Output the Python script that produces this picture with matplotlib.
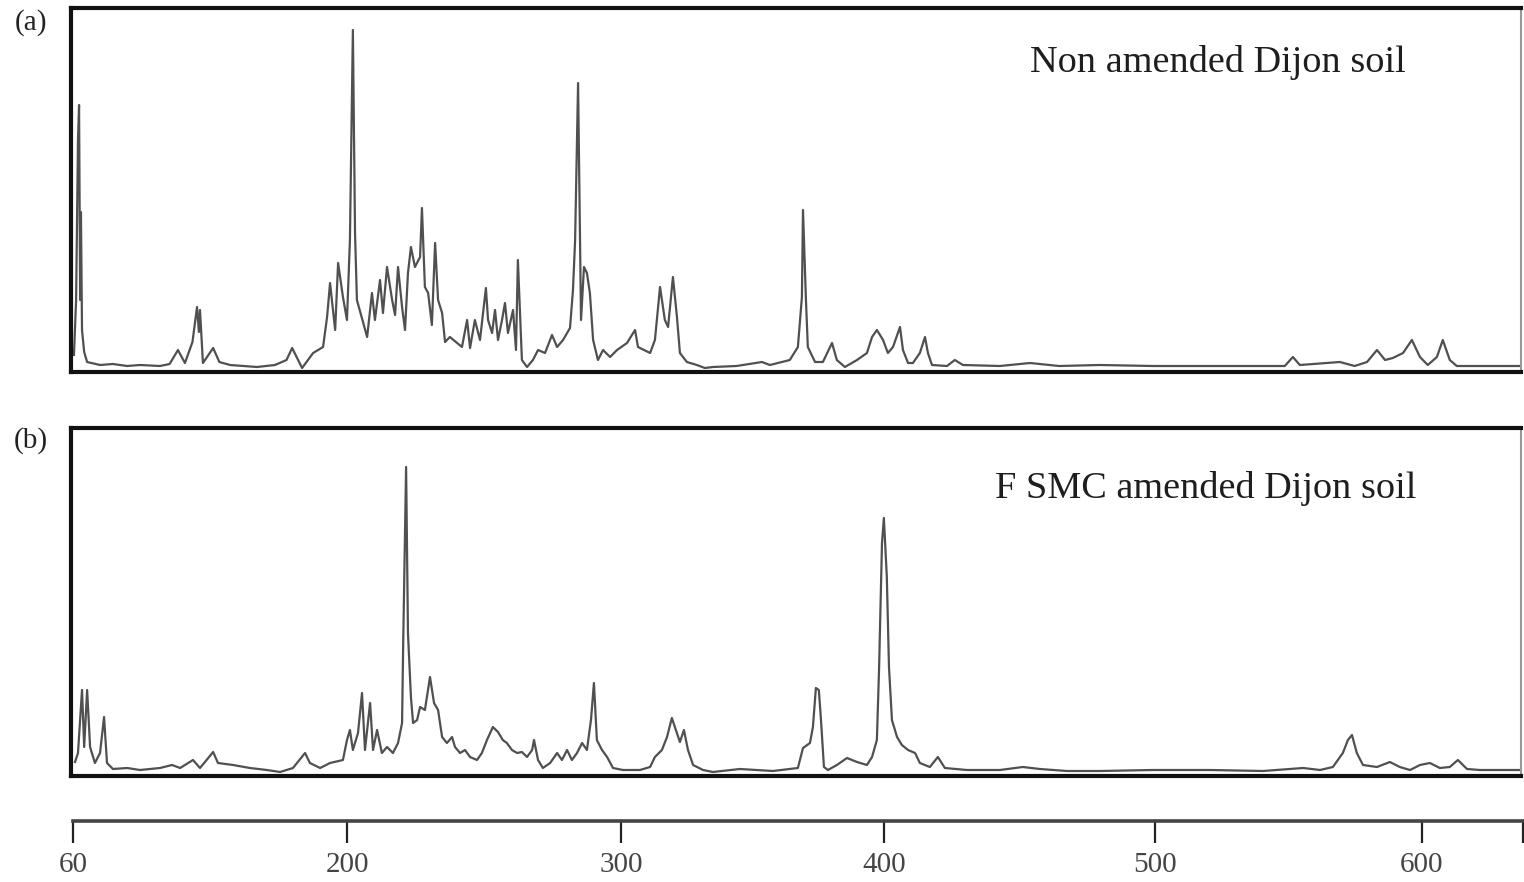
import matplotlib
matplotlib.use("Agg")
import matplotlib.pyplot as plt

# fragment size (bp) and peak height for the two profiles
size_a = [98.4, 99.2, 99.9, 100.3, 100.7, 101.0, 101.4, 102.2, 103.3, 108.1, 112.9, 118.2,
          123.0, 130.4, 134.0, 137.1, 139.7, 142.5, 144.2, 144.9, 145.3, 146.4, 150.2, 152.5,
          156.5, 166.5, 173.2, 177.5, 179.6, 183.3, 187.4, 191.1, 192.6, 193.7, 195.6, 196.7,
          198.5, 200.0, 201.1, 202.2, 203.0, 203.7, 207.5, 209.3, 210.4, 212.3, 213.4, 214.9,
          216.8, 217.9, 219.0, 220.5, 221.6, 222.7, 223.8, 225.3, 227.2, 227.9, 229.0, 230.2,
          231.6, 232.8, 233.9, 235.4, 236.5, 238.3, 241.0, 242.8, 244.7, 245.8, 247.6, 249.5,
          251.7, 252.5, 254.0, 255.1, 256.2, 257.7, 258.8, 259.9, 261.8, 262.9, 263.6, 265.1,
          267.0, 269.2, 271.1, 273.7, 276.3, 278.2, 280.4, 283.0, 284.1, 284.9, 286.0, 287.1,
          288.2, 289.3, 290.4, 291.6, 293.4, 295.3, 297.9, 300.5, 304.2, 307.2, 308.3, 312.8,
          314.6, 316.5, 318.3, 319.5, 321.3, 322.8, 323.9, 326.5, 330.2, 333.2, 336.2, 345.0,
          354.4, 357.4, 364.8, 367.8, 369.3, 369.7, 370.8, 371.5, 374.2, 377.1, 380.5, 382.3,
          385.3, 389.8, 393.5, 395.4, 397.2, 399.5, 401.3, 403.2, 405.8, 406.9, 408.8, 410.6,
          413.2, 415.1, 416.2, 417.7, 423.3, 426.2, 429.2, 443.0, 454.2, 465.0, 480.2, 500.0,
          517.4, 540.0, 549.0, 552.0, 554.6, 569.5, 575.0, 579.6, 583.3, 586.3, 589.2, 593.0,
          596.3, 599.3, 602.2, 605.6, 607.8, 610.4, 613.0, 621.6, 636.5]
height_a = [17, 72, 232, 267, 72, 160, 42, 20, 10, 7, 8, 6,
            7, 6, 8, 22, 9, 30, 65, 40, 62, 9, 24, 10,
            7, 5, 7, 12, 24, 4, 19, 25, 55, 89, 42, 109,
            75, 52, 132, 342, 139, 72, 35, 79, 52, 92, 59, 105,
            72, 57, 105, 65, 42, 99, 125, 105, 115, 164, 85, 79,
            47, 129, 72, 59, 30, 35, 29, 25, 52, 24, 52, 32,
            84, 52, 39, 62, 32, 52, 69, 39, 62, 22, 112, 12,
            5, 12, 22, 19, 37, 25, 32, 44, 82, 132, 289, 52,
            105, 99, 79, 32, 12, 22, 15, 22, 29, 42, 25, 19,
            32, 85, 52, 45, 95, 55, 19, 10, 7, 4, 5, 6,
            10, 7, 12, 25, 75, 162, 72, 25, 10, 10, 29, 12,
            5, 12, 19, 35, 42, 32, 19, 25, 45, 22, 9, 9,
            19, 35, 19, 7, 6, 12, 7, 6, 9, 6, 7, 6,
            6, 6, 6, 15, 7, 10, 6, 10, 22, 12, 14, 19,
            32, 15, 7, 15, 32, 12, 6, 6, 6]

size_b = [98.8, 99.9, 101.4, 102.2, 103.3, 104.4, 106.2, 108.1, 109.6, 110.7, 112.9, 118.2,
          123.0, 130.4, 134.9, 137.9, 142.7, 145.3, 150.2, 152.0, 157.6, 163.9, 170.2, 175.1,
          179.9, 184.4, 186.2, 190.0, 193.7, 198.5, 200.0, 201.1, 202.2, 204.1, 205.6, 206.7,
          208.6, 209.7, 211.2, 213.0, 214.9, 217.1, 219.0, 220.5, 220.9, 222.0, 222.7, 223.8,
          224.6, 226.1, 227.2, 229.0, 230.9, 232.4, 233.9, 235.4, 237.2, 239.1, 240.2, 242.1,
          243.9, 245.8, 248.4, 250.2, 252.1, 254.3, 256.2, 258.0, 259.5, 261.4, 263.3, 265.1,
          267.0, 268.9, 269.6, 271.1, 272.9, 275.6, 278.2, 280.0, 281.9, 283.7, 285.6, 287.5,
          289.3, 290.8, 291.9, 293.0, 294.9, 296.8, 299.0, 302.7, 309.0, 312.8, 314.6, 317.2,
          319.1, 320.9, 322.8, 323.9, 325.4, 326.9, 328.8, 332.5, 336.2, 346.2, 358.5, 367.8,
          369.7, 372.3, 373.4, 374.5, 375.6, 376.4, 377.5, 379.0, 382.3, 386.1, 389.8, 393.5,
          395.4, 397.2, 398.0, 399.1, 399.8, 400.9, 401.7, 402.8, 404.7, 406.5, 408.8, 411.4,
          413.2, 416.9, 419.9, 422.5, 430.7, 443.0, 451.5, 457.9, 467.9, 480.2, 499.9, 521.1,
          540.9, 555.8, 562.1, 566.9, 570.6, 572.5, 574.0, 575.8, 578.1, 583.3, 588.1, 591.8,
          595.6, 599.3, 603.0, 606.7, 610.4, 613.4, 616.8, 621.6, 636.5]
height_b = [14, 23, 86, 29, 86, 29, 13, 23, 59, 13, 7, 8,
            6, 8, 11, 8, 16, 8, 24, 13, 11, 8, 6, 4,
            8, 23, 13, 8, 13, 16, 36, 46, 26, 43, 83, 26,
            73, 26, 46, 23, 29, 23, 33, 53, 129, 309, 143, 79,
            53, 56, 69, 66, 99, 73, 66, 39, 33, 39, 29, 23,
            26, 19, 16, 23, 36, 49, 44, 36, 33, 26, 23, 24,
            19, 26, 36, 16, 8, 13, 23, 16, 26, 16, 23, 33,
            26, 56, 93, 36, 26, 19, 8, 6, 6, 9, 19, 26,
            39, 58, 43, 34, 46, 26, 11, 6, 4, 7, 5, 8,
            28, 33, 49, 88, 86, 56, 9, 6, 11, 18, 14, 11,
            19, 36, 106, 233, 258, 199, 109, 56, 39, 31, 26, 23,
            13, 9, 19, 8, 6, 6, 9, 7, 5, 5, 6, 6,
            5, 8, 6, 9, 23, 36, 41, 23, 11, 9, 14, 9,
            6, 11, 13, 8, 9, 16, 7, 6, 6]

panel_labels = ["(a)", "(b)"]
panel_titles = ["Non amended Dijon soil", "F SMC amended Dijon soil"]
tick_pos = [98, 200, 302, 400, 500.5, 600, 637.6]
tick_labels = ["60", "200", "300", "400", "500", "600", ""]

W, H = 1524, 882
fig = plt.figure(figsize=(W / 100, H / 100), dpi=100)
serif = "Liberation Serif"

def box(l, t, r, b):
    return [l / W, 1 - b / H, (r - l) / W, (b - t) / H]

ax_a = fig.add_axes(box(71, 8, 1521, 372))
ax_b = fig.add_axes(box(71, 428, 1521, 776))

panels = [
    (ax_a, size_a, height_a, 364, 0, 1030, 23, 63),
    (ax_b, size_b, height_b, 348, 1, 995, 441, 489),
]
for ax, xs, ys, ymax, i, xtit, ylab, ytit in panels:
    ax.plot(xs, ys, color="#505050", linewidth=1.6)
    ax.set_xlim(97.3, 636.9)
    ax.set_ylim(0, ymax)
    ax.set_xticks([])
    ax.set_yticks([])
    for s in ["top", "left", "bottom"]:
        ax.spines[s].set_linewidth(3)
        ax.spines[s].set_color("#111111")
    ax.spines["right"].set_linewidth(1.5)
    ax.spines["right"].set_color("#999999")
    fig.text(31 / W, 1 - ylab / H, panel_labels[i], family=serif, fontsize=21,
             color="#222222", ha="center", va="center")
    fig.text(xtit / W, 1 - ytit / H, panel_titles[i], family=serif, fontsize=27.5,
             color="#1e1e1e", ha="left", va="center")

# separate size scale under the two profiles
ax_x = fig.add_axes([73 / W, 1 - 821 / H, (W - 73) / W, 0.0001])
ax_x.set_xlim(98.1, 638.0)
ax_x.set_yticks([])
for s in ["top", "left", "right"]:
    ax_x.spines[s].set_visible(False)
ax_x.spines["bottom"].set_linewidth(2.6)
ax_x.spines["bottom"].set_color("#444444")
ax_x.set_xticks(tick_pos)
ax_x.set_xticklabels(tick_labels, family=serif, fontsize=21, color="#444444")
ax_x.tick_params(axis="x", direction="out", length=16, width=1.6, color="#222222", pad=6)

fig.savefig("out.png", dpi=100)
